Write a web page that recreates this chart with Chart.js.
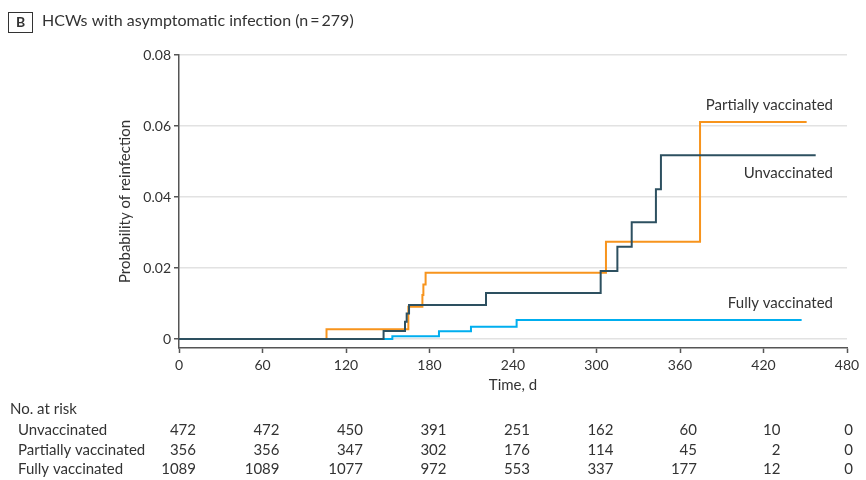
<!DOCTYPE html>
<html lang="en">
<head>
<meta charset="UTF-8">
<title>HCWs with asymptomatic infection</title>
<script src="https://cdn.jsdelivr.net/npm/chart.js@4.4.1/dist/chart.umd.min.js"></script>
<style>
  html, body { margin: 0; padding: 0; background: #fff; }
  #wrap { width: 866px; height: 480px; position: relative; }
</style>
</head>
<body>
<div id="wrap"><canvas id="km" width="866" height="480"></canvas></div>
<script>
// Kaplan-Meier steps: day of event, cumulative probability after it
var unvacDays   = [0, 147, 162.4, 163.6, 165.3, 220.6, 303, 315, 325.3, 342.7, 346.3, 457.5];
var unvacProb   = [0, 0.0023, 0.0049, 0.0072, 0.0096, 0.0130, 0.0192, 0.0260, 0.0329, 0.0422, 0.0518, 0.0518];
var partialDays = [0, 106, 164.8, 174.9, 175.6, 177.2, 306.8, 374.4, 451];
var partialProb = [0, 0.0028, 0.0091, 0.0124, 0.0154, 0.0187, 0.0274, 0.0611, 0.0611];
var fullyDays   = [0, 153.3, 186.8, 209.8, 242.6, 447.4];
var fullyProb   = [0, 0.0008, 0.0022, 0.0035, 0.0054, 0.0054];

var seriesNames = ["Unvaccinated", "Partially vaccinated", "Fully vaccinated"];
var yTicks = [0, 0.02, 0.04, 0.06, 0.08];
var xTicks = [0, 60, 120, 180, 240, 300, 360, 420, 480];

// number at risk table
var atRiskUnvac   = [472, 472, 450, 391, 251, 162, 60, 10, 0];
var atRiskPartial = [356, 356, 347, 302, 176, 114, 45, 2, 0];
var atRiskFully   = [1089, 1089, 1077, 972, 553, 337, 177, 12, 0];

var FONT = "Lato, 'Open Sans', sans-serif";
var TEXT = "#333";

function pts(days, probs) {
    return days.map(function (d, i) { return { x: d, y: probs[i] }; });
}

// end-of-line label offsets (px above/below the last point)
var labelDy = [18, -17, -17];

var extras = {
    id: "extras",
    afterDraw: function (chart) {
        var ctx = chart.ctx;
        var xs = chart.scales.x;
        var ys = chart.scales.y;
        var area = chart.chartArea;
        ctx.save();

        // panel letter + title
        ctx.strokeStyle = "#333";
        ctx.lineWidth = 1;
        ctx.strokeRect(8.5, 12.5, 24, 20);
        ctx.fillStyle = TEXT;
        ctx.font = "bold 14px " + FONT;
        ctx.textAlign = "center";
        ctx.textBaseline = "middle";
        ctx.fillText("B", 20.5, 22.5);
        ctx.font = "16px " + FONT;
        ctx.textAlign = "left";
        ctx.fillText("HCWs with asymptomatic infection (n\u2009=\u2009279)", 42, 21);

        // series labels at the end of each curve
        ctx.font = "15px " + FONT;
        ctx.textAlign = "right";
        chart.data.datasets.forEach(function (ds, i) {
            var last = ds.data[ds.data.length - 1];
            ctx.fillText(seriesNames[i], area.right - 14, ys.getPixelForValue(last.y) + labelDy[i]);
        });

        // no. at risk
        ctx.textAlign = "left";
        ctx.font = "15px " + FONT;
        ctx.fillText("No. at risk", 10, 409);
        var rows = [atRiskUnvac, atRiskPartial, atRiskFully];
        var rowY = [430, 450, 469];
        rows.forEach(function (row, r) {
            ctx.textAlign = "left";
            ctx.fillText(seriesNames[r], 18, rowY[r]);
            ctx.textAlign = "right";
            row.forEach(function (n, i) {
                var px = Math.min(xs.getPixelForValue(xTicks[i]) + 17, 853);
                ctx.fillText(String(n), px, rowY[r]);
            });
        });
        ctx.restore();
    }
};

new Chart(document.getElementById("km"), {
    type: "line",
    data: {
        datasets: [
            { label: seriesNames[0], data: pts(unvacDays, unvacProb), borderColor: "#2d5060" },
            { label: seriesNames[1], data: pts(partialDays, partialProb), borderColor: "#f7941d" },
            { label: seriesNames[2], data: pts(fullyDays, fullyProb), borderColor: "#00aeef" }
        ]
    },
    options: {
        responsive: false,
        animation: false,
        devicePixelRatio: 1,
        layout: { padding: { left: 112, top: 55, right: 19, bottom: 82 } },
        elements: {
            // horizontal first, then the vertical jump at the next event
            line: { stepped: "before", borderWidth: 2, fill: false },
            point: { radius: 0 }
        },
        plugins: {
            legend: { display: false },
            tooltip: { enabled: false }
        },
        scales: {
            x: {
                type: "linear",
                min: 0,
                max: 480,
                afterFit: function (s) { s.height = 50; },
                afterBuildTicks: function (s) { s.ticks = xTicks.map(function (v) { return { value: v }; }); },
                grid: { drawOnChartArea: false, tickLength: 5, tickColor: "#555", tickWidth: 1.5 },
                border: { color: "#555", width: 1.5 },
                ticks: { color: TEXT, font: { family: FONT, size: 14 }, padding: 4, maxRotation: 0 },
                title: { display: true, text: "Time, d", color: TEXT, font: { family: FONT, size: 15 }, padding: { top: 2, bottom: 4 } }
            },
            y: {
                min: -0.0025,
                max: 0.08,
                afterFit: function (s) { s.width = 67; },
                afterBuildTicks: function (s) { s.ticks = yTicks.map(function (v) { return { value: v }; }); },
                grid: { color: "#e2e2e2", lineWidth: 1.5, tickLength: 5, tickColor: "#555", tickWidth: 1.5 },
                border: { color: "#555", width: 1.5 },
                ticks: {
                    color: TEXT,
                    font: { family: FONT, size: 14 },
                    padding: 3,
                    callback: function (v) { return v === 0 ? "0" : v.toFixed(2); }
                },
                title: { display: true, text: "Probability of reinfection", color: TEXT, font: { family: FONT, size: 15 }, padding: 4 }
            }
        }
    },
    plugins: [extras]
});
</script>
</body>
</html>
